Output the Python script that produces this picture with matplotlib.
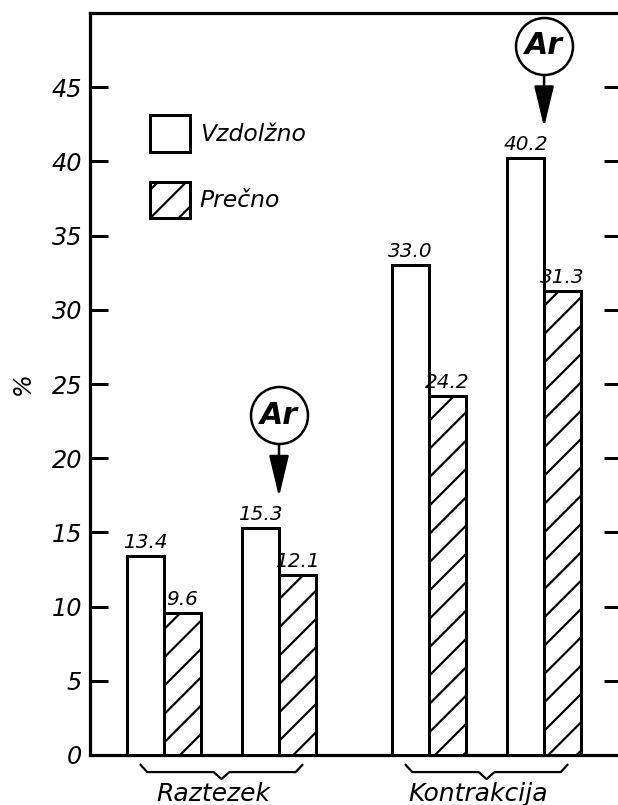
import matplotlib
matplotlib.use('Agg')
import matplotlib.pyplot as plt
import numpy as np

# ---------------------------------------------------------------
# DATA
# ---------------------------------------------------------------
groups = ['Raztezek', 'Kontrakcija']
series = ['Vzdolžno', 'Prečno']
vzdolzno_base = [13.4, 33.0]
precno_base = [9.6, 24.2]
vzdolzno_ar = [15.3, 40.2]
precno_ar = [12.1, 31.3]
ar_label = 'Ar'
yticks = [0, 5, 10, 15, 20, 25, 30, 35, 40, 45]

DPI = 170
PX = 72 / DPI          # one pixel in points

plt.rcParams.update({
    'font.family': 'DejaVu Sans',
    'font.style': 'italic',
    'hatch.linewidth': 2.2 * PX,
    'hatch.color': 'black',
})

fig = plt.figure(figsize=(618 / DPI, 805 / DPI), dpi=DPI)
fig.patch.set_facecolor('white')
ax = fig.add_axes([90 / 618, 50 / 805, 532 / 618, 742 / 805])

LW = 3 * PX
W = 0.14          # bar width
PAIR = 0.217      # offset of pair centre from group centre
x = np.arange(len(groups))

def bar_pair(centres, v_vals, p_vals, with_label):
    b1 = ax.bar(centres - W / 2, v_vals, W, facecolor='white', edgecolor='black',
                linewidth=LW, label=series[0] if with_label else None, zorder=3)
    b2 = ax.bar(centres + W / 2, p_vals, W, facecolor='white', edgecolor='black',
                linewidth=LW, hatch='//', label=series[1] if with_label else None, zorder=3)
    for bars in (b1, b2):
        for r in bars:
            ax.annotate(f'{r.get_height():.1f}',
                        (r.get_x() + r.get_width() / 2, r.get_height()),
                        xytext=(0, 4 * PX), textcoords='offset points',
                        ha='center', va='bottom', fontsize=20 * PX)

bar_pair(x - PAIR, vzdolzno_base, precno_base, True)
bar_pair(x + PAIR, vzdolzno_ar, precno_ar, False)

# Ar markers with arrows above the argon pairs
for xc, top in zip(x + PAIR, vzdolzno_ar):
    tip = top + 2.1
    cy = tip + 5.5
    ax.plot(xc, cy, 'o', ms=57 * PX, mfc='white', mec='black', mew=2.5 * PX,
            zorder=5, clip_on=False)
    ax.text(xc, cy, ar_label, ha='center', va='center', fontsize=30 * PX,
            fontweight='bold', zorder=6)
    ax.annotate('', xy=(xc, tip), xytext=(xc, cy - 1.9),
                arrowprops=dict(arrowstyle='-|>,head_length=0.75,head_width=0.18',
                                mutation_scale=20, lw=2.5 * PX, color='black',
                                shrinkA=0, shrinkB=0), zorder=4)

# Braces + group labels under the axis
HALF = 0.305
for xc, name in zip(x, groups):
    bx = [xc - HALF, xc - HALF + 0.025, xc - 0.03, xc, xc + 0.03, xc + HALF - 0.025, xc + HALF]
    by = [-0.67, -1.15, -1.15, -1.62, -1.15, -1.15, -0.67]
    ax.plot(bx, by, color='black', lw=2.2 * PX, clip_on=False)
    ax.text(xc - 0.03, -2.6, name, ha='center', va='center', fontsize=25 * PX)

ax.set_xlim(-0.496, 1.511)
ax.set_ylim(0, 50)
ax.set_xticks([])
ax.set_yticks(yticks)
ax.set_yticklabels([str(t) for t in yticks], fontsize=24 * PX)
ax.tick_params(axis='y', direction='in', length=18 * PX, width=3 * PX,
               right=True, pad=8 * PX)
for s in ax.spines.values():
    s.set_linewidth(3.2 * PX)
ax.set_ylabel('%', fontsize=24 * PX, labelpad=17 * PX)

ax.legend(loc='upper left', bbox_to_anchor=(0.1128, 0.8625), frameon=False,
          fontsize=23.5 * PX, handlelength=1.7, handleheight=2.03,
          handletextpad=0.42, labelspacing=1.27, borderpad=0, borderaxespad=0)

fig.savefig('out.png', dpi=DPI, facecolor='white')
